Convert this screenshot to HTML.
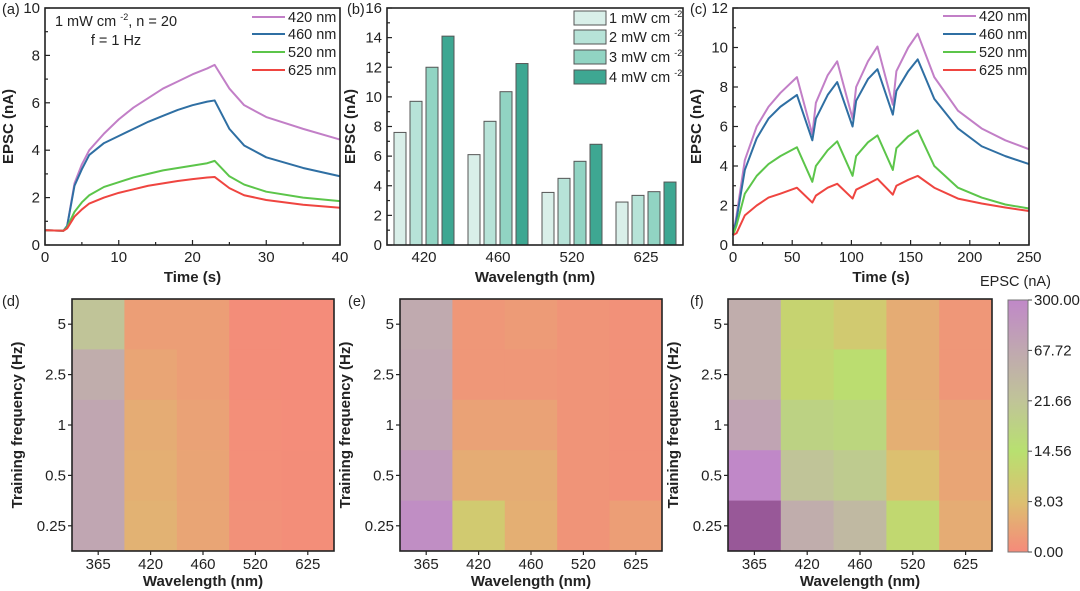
<!DOCTYPE html>
<html><head><meta charset="utf-8">
<style>
html,body{margin:0;padding:0;background:#fff;}
svg{display:block;font-family:"Liberation Sans",Arial,sans-serif;}
.tk{font-size:15px;fill:#222;}
.tt{font-size:15px;font-weight:bold;fill:#222;}
.lg{font-size:14.5px;fill:#222;}
</style></head>
<body>
<svg id="fig" width="1080" height="591" viewBox="0 0 1080 591" xmlns="http://www.w3.org/2000/svg"></svg>
<script>
// ---- Panel (a) data ----
const aTimes=[0,2.5,3,4,5,6,8,10,12,14,16,18,20,22,23,25,27,30,35,40];
const a420=[0.62,0.6,0.8,2.6,3.4,4.0,4.7,5.3,5.8,6.2,6.6,6.9,7.2,7.45,7.6,6.6,5.9,5.4,4.9,4.45];
const a460=[0.62,0.6,0.8,2.5,3.2,3.8,4.3,4.6,4.9,5.2,5.45,5.7,5.9,6.05,6.1,4.9,4.2,3.7,3.25,2.9];
const a520=[0.62,0.6,0.75,1.4,1.8,2.1,2.45,2.65,2.85,3.0,3.15,3.25,3.35,3.45,3.55,2.9,2.55,2.25,2.0,1.85];
const a625=[0.62,0.6,0.7,1.2,1.5,1.75,2.0,2.2,2.35,2.5,2.6,2.7,2.78,2.85,2.87,2.4,2.1,1.9,1.7,1.57];
const seriesNames=["420 nm","460 nm","520 nm","625 nm"];
// ---- Panel (b) data ----
const bCats=["420","460","520","625"];
const bP1=[7.6,6.1,3.55,2.9];
const bP2=[9.7,8.35,4.5,3.35];
const bP3=[12.0,10.35,5.65,3.6];
const bP4=[14.1,12.25,6.8,4.25];
const bLegend=["1 mW cm","2 mW cm","3 mW cm","4 mW cm"];
// ---- Panel (c) data ----
const cTimes=[0,3,10,20,30,40,54,67,70,80,88,101,104,114,122,135,138,148,156,170,190,210,230,250];
const c420=[0.5,1.5,4.3,6.0,7.0,7.7,8.5,5.6,7.2,8.6,9.3,6.4,8.0,9.3,10.05,7.1,8.8,10.0,10.7,8.5,6.8,5.9,5.3,4.85];
const c460=[0.5,1.3,3.8,5.4,6.4,7.0,7.6,5.3,6.4,7.6,8.25,6.0,7.3,8.4,8.9,6.6,7.8,8.8,9.4,7.4,5.9,5.0,4.5,4.1];
const c520=[0.5,1.0,2.6,3.5,4.1,4.5,4.95,3.2,4.0,4.8,5.25,3.5,4.5,5.2,5.55,3.8,4.9,5.5,5.8,4.0,2.9,2.4,2.05,1.85];
const c625=[0.5,0.6,1.5,2.0,2.4,2.6,2.9,2.15,2.5,2.9,3.1,2.35,2.8,3.1,3.35,2.55,3.0,3.3,3.5,2.9,2.35,2.1,1.9,1.72];
// ---- Heatmap data (rows: 5,2.5,1,0.5,0.25; cols: 365..625) ----
const hmCols=["365","420","460","520","625"];
const hmRows=["5","2.5","1","0.5","0.25"];
const hmD=[[22,3,3,0.5,0.3],[60,4,3,0.5,0.3],[80,5,3.5,0.7,0.4],[80,5.5,3.8,0.8,0.5],[85,6,4,1,0.6]];
const hmE=[[65,2,2.5,1.5,1],[75,2,2,1.5,1],[100,3.5,3.5,1.5,1],[160,5,5,1.5,1],[260,10,5.5,1.5,3]];
const hmF=[[60,12,10,5,2],[60,12.5,14,5,2],[100,18,17,5.5,3.5],[300,22,20,8,4],[600,60,40,13,5]];
const cbTicks=["0.00","8.03","14.56","21.66","67.72","300.00"];
const cbVals=[0,8.03,14.56,21.66,67.72,300];
const cbColors=["#f58a7a","#dcc070","#b8e070","#c0c498","#c0a8b0","#c088c8"];

const NS="http://www.w3.org/2000/svg";
const svg=document.getElementById('fig');
function mk(tag,attrs,parent,text){const e=document.createElementNS(NS,tag);for(const k in attrs)e.setAttribute(k,attrs[k]);if(text!==undefined)e.textContent=text;(parent||svg).appendChild(e);return e;}
const lineColors=["#c27fc7","#2f6fa3","#5cc54a","#ef4540"];

function axes(name,x0,x1,y0,y1,xmin,xmax,ymin,ymax,xMaj,xMin,yMaj,yMin,xlabel,ylabel){
  const g=mk('g',{});
  
  
  const X=v=>x0+(v-xmin)/(xmax-xmin)*(x1-x0);
  const Y=v=>y1-(v-ymin)/(ymax-ymin)*(y1-y0);
  if(xMaj){for(let v=xmin;v<=xmax+1e-9;v+=xMin){const maj=Math.abs((v-xmin)/xMaj-Math.round((v-xmin)/xMaj))<1e-6;mk('line',{x1:X(v),x2:X(v),y1:y1,y2:y1-(maj?5:3),stroke:'#222','stroke-width':1.2},g);
    if(maj){const t=mk('text',{x:X(v),y:y1+17,'text-anchor':'middle',class:'tk'},g,String(Math.round(v)));}}}
  for(let v=ymin;v<=ymax+1e-9;v+=yMin){const maj=Math.abs(v/yMaj-Math.round(v/yMaj))<1e-6;mk('line',{x1:x0,x2:x0+(maj?5:3),y1:Y(v),y2:Y(v),stroke:'#222','stroke-width':1.2},g);
    if(maj){const t=mk('text',{x:x0-5,y:Y(v)+5,'text-anchor':'end',class:'tk'},g,String(Math.round(v)));}}
  const xt=mk('text',{x:(x0+x1)/2,y:y1+37,'text-anchor':'middle',class:'tt'},g,xlabel);
  
  const cx=x0-32,cy=(y0+y1)/2;
  const yt=mk('text',{x:cx,y:cy,'text-anchor':'middle',class:'tt',transform:`rotate(-90 ${cx} ${cy})`},g,ylabel);
  
  return {g,X,Y,box:()=>{const r=mk('rect',{x:x0,y:y0,width:x1-x0,height:y1-y0,fill:'none',stroke:'#222','stroke-width':1.6},g);}};
}
function lines(ax,times,series,name){
  series.forEach((s,i)=>{
    const p=mk('polyline',{points:s.map((v,j)=>ax.X(times[j])+','+ax.Y(v)).join(' '),fill:'none',stroke:lineColors[i],'stroke-width':2,'stroke-linejoin':'round'},ax.g);
    
    
  });
}
function lineLegend(g,x,ys){
  seriesNames.forEach((n,i)=>{
    const l=mk('line',{x1:x,x2:x+33,y1:ys[i],y2:ys[i],stroke:lineColors[i],'stroke-width':2},g);
    
    const t=mk('text',{x:x+36,y:ys[i]+5,class:'lg'},g,n);
    
  });
}
function plabel(txt,x,y){const t=mk('text',{x:x,y:y,class:'lg','font-size':'15'},svg,txt);}

// Panel a
const A=axes('panel-a',45,340,8,245,0,40,0,10,10,5,2,1,'Time (s)','EPSC (nA)');
lines(A,aTimes,[a420,a460,a520,a625],'a');
A.box();
lineLegend(A.g,252,[17,34,52,70]);
let t1=mk('text',{x:116,y:26,'text-anchor':'middle',class:'lg'},A.g);
t1.innerHTML='1 mW cm <tspan font-size="9" dy="-6">-2</tspan><tspan dy="6">, n = 20</tspan>';
let t2=mk('text',{x:116,y:45,'text-anchor':'middle',class:'lg'},A.g,'f = 1 Hz');
plabel('(a)',2,14);

// Panel b
const B=axes('panel-b',387,683,8,245,0,1,0,16,0,0,2,1,'Wavelength (nm)','EPSC (nA)');
const bFill=["#d9efe9","#b7e3d8","#91d4c3","#3ea792"];
const bW=296/4;
[bP1,bP2,bP3,bP4].forEach((arr,si)=>{
  arr.forEach((v,ci)=>{
    const cx=387+bW*(ci+0.5)+(-24+16*si);
    const r=mk('rect',{x:cx-6,y:B.Y(v),width:12,height:B.Y(0)-B.Y(v),fill:bFill[si],stroke:'#555','stroke-width':1},B.g);
    
  });
});
bCats.forEach((c,ci)=>{const x=387+bW*(ci+0.5);
  const t=mk('text',{x:x,y:262,'text-anchor':'middle',class:'tk'},B.g,c);});
B.box();
bLegend.forEach((n,i)=>{const y=[18,37,57,77][i];
  const r=mk('rect',{x:574,y:y-7,width:32,height:14,fill:bFill[i],stroke:'#555','stroke-width':1},B.g);
  const t=mk('text',{x:609,y:y+5,class:'lg'},B.g);
  t.innerHTML=n+' <tspan font-size="9" dy="-6">-2</tspan>';});
plabel('(b)',347,14);

// Panel c
const C=axes('panel-c',733,1029,8,245,0,250,0,12,50,25,2,1,'Time (s)','EPSC (nA)');
lines(C,cTimes,[c420,c460,c520,c625],'c');
C.box();
lineLegend(C.g,943,[16,34,52,70]);
plabel('(c)',690,14);
let eu=mk('text',{x:980,y:286,class:'lg'},svg,'EPSC (nA)');

// Heatmaps
function hex(c){return [1,3,5].map(i=>parseInt(c.substr(i,2),16));}
function colorFor(v){
  const stops=cbVals.concat([600]);const cols=cbColors.concat(["#985898"]);
  if(v<=0)return cols[0];
  for(let i=0;i<stops.length-1;i++){if(v<=stops[i+1]){const f=(v-stops[i])/(stops[i+1]-stops[i]);const a=hex(cols[i]),b=hex(cols[i+1]);return 'rgb('+a.map((x,k)=>Math.round(x+(b[k]-x)*f)).join(',')+')';}}
  return cols[cols.length-1];
}
function heat(name,data,x0,x1,y0,y1,lbl,lx){
  const ax=axes(name,x0,x1,y0,y1,0,1,0,1,0,0,1,1,'Wavelength (nm)','Training frequency (Hz)');
  ax.g.querySelectorAll('line,text.tk').forEach(e=>e.remove());
  ax.g.querySelector('.tt').setAttribute('y',y1+35);
  const cw=(x1-x0)/5,rh=(y1-y0)/5;
  data.forEach((row,ri)=>row.forEach((v,ci)=>{
    const r=mk('rect',{x:x0+ci*cw,y:y0+ri*rh,width:cw+0.5,height:rh+0.5,fill:colorFor(v)},ax.g);
    
  }));
  hmCols.forEach((c,i)=>{const x=x0+cw*(i+0.5);mk('line',{x1:x,x2:x,y1:y1,y2:y1+4,stroke:'#222','stroke-width':1.2},ax.g);
    const t=mk('text',{x:x,y:y1+18,'text-anchor':'middle',class:'tk'},ax.g,c);});
  hmRows.forEach((c,i)=>{const y=y0+rh*(i+0.5);mk('line',{x1:x0,x2:x0-4,y1:y,y2:y,stroke:'#222','stroke-width':1.2},ax.g);
    const t=mk('text',{x:x0-6,y:y+5,'text-anchor':'end',class:'tk'},ax.g,c);});
  ax.g.querySelectorAll('.tt')[1].setAttribute('transform',`rotate(-90 ${x0-50} ${(y0+y1)/2})`);
  ax.g.querySelectorAll('.tt')[1].setAttribute('x',x0-50);
  ax.box();
  plabel(lbl,lx,306);
}
heat('heatmap-d',hmD,72,334,299,551,'(d)',2);
heat('heatmap-e',hmE,400,662,299,551,'(e)',348);
heat('heatmap-f',hmF,728,992,299,551,'(f)',690);

// Colorbar
const defs=mk('defs',{});
const grad=mk('linearGradient',{id:'cbg',x1:0,y1:1,x2:0,y2:0},defs);
cbColors.forEach((c,i)=>mk('stop',{offset:(i/(cbColors.length-1)),'stop-color':c},grad));
const cb=mk('g',{});
mk('rect',{x:1008,y:300,width:20,height:252,fill:'url(#cbg)',stroke:'#777','stroke-width':1},cb);
cbTicks.forEach((t,i)=>{const y=552-i*252/5;mk('line',{x1:1028,x2:1032,y1:y,y2:y,stroke:'#444'},cb);
  const e=mk('text',{x:1034,y:y+5,class:'tk'},cb,t);});
</script>
</body></html>
